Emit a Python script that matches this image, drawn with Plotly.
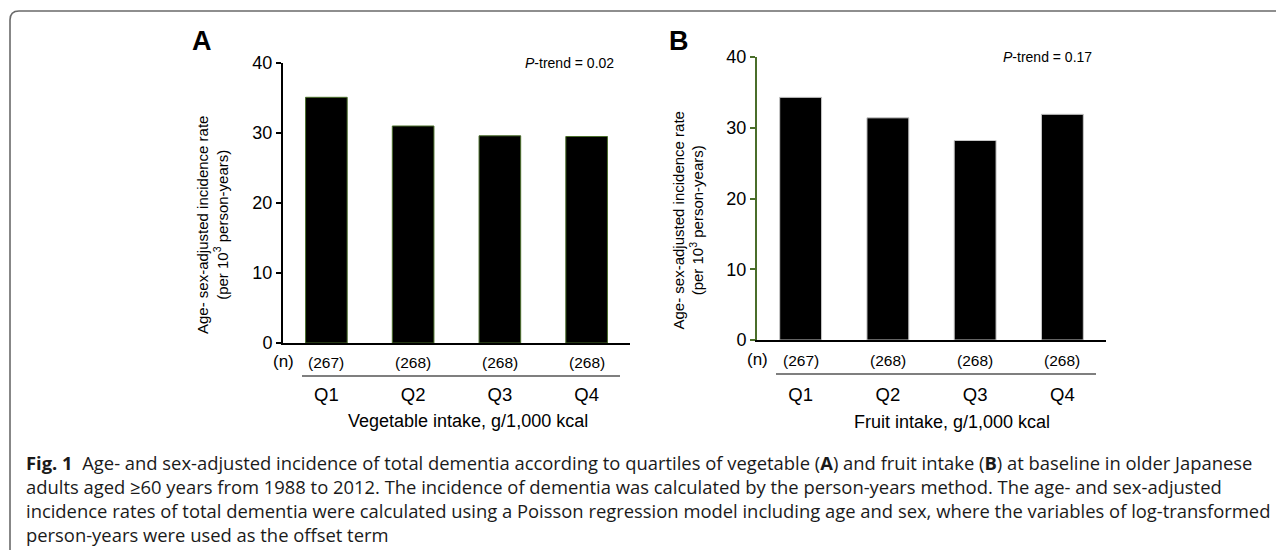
import plotly.graph_objects as go

W, H = 1284, 550
OFF = 8  # page body margin in the browser

quartiles = ["Q1", "Q2", "Q3", "Q4"]
veg_rate = [35.1, 31.0, 29.6, 29.5]
fruit_rate = [34.3, 31.4, 28.2, 31.9]
n_counts = ["(267)", "(268)", "(268)", "(268)"]
y_ticks = [0, 10, 20, 30, 40]
veg_title = "Vegetable intake, g/1,000 kcal"
fruit_title = "Fruit intake, g/1,000 kcal"
y_title = "Age- sex-adjusted incidence rate<br>(per 10<sup>3</sup> person-years)"
p_trend = ["<i>P</i>-trend = 0.02", "<i>P</i>-trend = 0.17"]
panel_labels = ["A", "B"]
caption_lines = [
    "<b>Fig. 1</b>  Age- and sex-adjusted incidence of total dementia according to quartiles of vegetable (<b>A</b>) and fruit intake (<b>B</b>) at baseline in older Japanese",
    "adults aged ≥60 years from 1988 to 2012. The incidence of dementia was calculated by the person-years method. The age- and sex-adjusted",
    "incidence rates of total dementia were calculated using a Poisson regression model including age and sex, where the variables of log-transformed",
    "person-years were used as the offset term",
]

FONT = "Liberation Sans, Arial, sans-serif"
CAPFONT = "Open Sans, sans-serif"
GREEN = "#4a6e2a"


def px(x):
    return (x - OFF) / W


def py(y):
    return 1 - (y - OFF) / H


fig = go.Figure()

panels = [
    dict(xl=283, xr=630, y0=343, y40=63, vals=veg_rate, outline=GREEN, ycol="black",
         xtitle=veg_title, xt_x=468, xt_y=421, n_y=361, sep_y=376, q_off=34,
         ytitle_x=212, lab_x=202, pt_x=616),
    dict(xl=757, xr=1106, y0=340, y40=57, vals=fruit_rate, outline="#c8c8c8", ycol=GREEN,
         xtitle=fruit_title, xt_x=952, xt_y=422, n_y=359, sep_y=374, q_off=37,
         ytitle_x=688, lab_x=679, pt_x=1094),
]

annotations = []
shapes = []


def ann(x, y, text, size, xref="paper", **kw):
    d = dict(x=x, y=y, xref=xref, yref="paper", text=text, showarrow=False,
             xanchor="center", yanchor="middle",
             font=dict(family=FONT, size=size, color="black"))
    d.update(kw)
    return d


for i, p in enumerate(panels):
    xa = "x" if i == 0 else "x2"
    ya = "y" if i == 0 else "y2"
    fig.add_trace(go.Bar(
        x=quartiles, y=p["vals"], xaxis=xa, yaxis=ya,
        marker=dict(color="black", line=dict(color=p["outline"], width=1)),
        width=0.48, showlegend=False, hoverinfo="x+y",
    ))
    sfx = "" if i == 0 else "2"
    fig.update_layout(**{
        "xaxis" + sfx: dict(
            domain=[px(p["xl"]), px(p["xr"])], range=[-0.5, 3.5], anchor=ya,
            showline=True, linecolor="black", linewidth=2, ticks="", showgrid=False,
            zeroline=False, tickfont=dict(family=FONT, size=18.5, color="black"),
            ticklabelstandoff=p["q_off"], fixedrange=True,
        ),
        "yaxis" + sfx: dict(
            domain=[py(p["y0"]), py(p["y40"])], range=[0, 40], anchor=xa,
            tickvals=y_ticks, showline=True, linecolor=p["ycol"], linewidth=2,
            ticks="outside", ticklen=5, tickwidth=2, tickcolor=p["ycol"],
            showgrid=False, zeroline=False,
            tickfont=dict(family=FONT, size=18, color="black"), fixedrange=True,
        ),
    })
    annotations.append(ann(px(p["xl"]), py(p["n_y"]), "(n)", 17))
    for q, n in zip(quartiles, n_counts):
        annotations.append(ann(q, py(p["n_y"] + 1), n, 15.5, xref=xa))
    shapes.append(dict(type="line", xref="paper", yref="paper",
                       x0=px(p["xl"] + 19), x1=px(p["xr"] - 10),
                       y0=py(p["sep_y"]), y1=py(p["sep_y"]),
                       line=dict(color="#555555", width=1.5)))
    annotations.append(ann(px(p["xt_x"]), py(p["xt_y"]), p["xtitle"], 18))
    annotations.append(ann(px(p["ytitle_x"]), py((p["y0"] + p["y40"]) / 2 + 22),
                           y_title, 15, textangle=-90))
    annotations.append(ann(px(p["lab_x"]), py(41), "<b>" + panel_labels[i] + "</b>", 27))
    annotations.append(ann(px(p["pt_x"]), py(p["y40"]), p_trend[i], 14, xanchor="right"))

for k, line in enumerate(caption_lines):
    annotations.append(dict(x=px(24), y=py(462 + 24 * k), xref="paper", yref="paper",
                            text=line, showarrow=False, xanchor="left", yanchor="middle",
                            font=dict(family=CAPFONT, size=18.4, color="#1a1a1a")))

r = 9
path = (f"M {px(10)},{py(620)} L {px(10)},{py(11 + r)} "
        f"Q {px(10)},{py(11)} {px(10 + r)},{py(11)} L {px(1320)},{py(11)}")
shapes.append(dict(type="path", xref="paper", yref="paper", path=path,
                   line=dict(color="#6a6a6a", width=1.6)))

fig.update_layout(
    width=W, height=H, margin=dict(l=0, r=0, t=0, b=0, autoexpand=False),
    paper_bgcolor="white", plot_bgcolor="white",
    annotations=annotations, shapes=shapes, bargap=0.5,
)

fig.write_html("out.html")
